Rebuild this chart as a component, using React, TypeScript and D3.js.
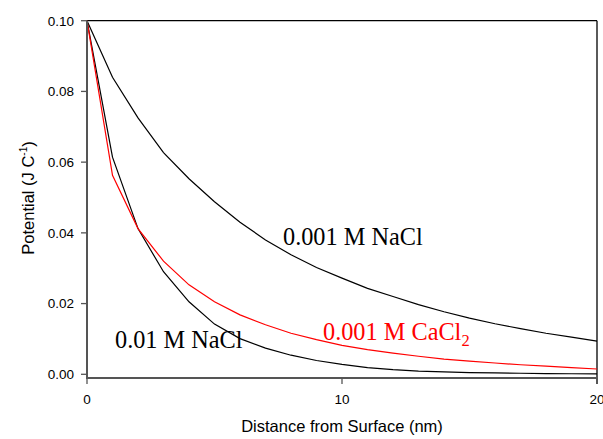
import React from "react";
import { scaleLinear, line } from "d3";

// distance from surface (nm)
const distance = [0, 1, 2, 3, 4, 5, 6, 7, 8, 9, 10, 11, 12, 13, 14, 15, 16, 17, 18, 19, 20];

// potential (J/C)
const nacl001 = [0.1, 0.084, 0.0725, 0.0627, 0.0553, 0.0488, 0.043, 0.038, 0.0338, 0.0302, 0.0272,
  0.0243, 0.022, 0.0197, 0.0177, 0.0159, 0.0143, 0.0129, 0.0116, 0.0105, 0.0094];
const nacl01 = [0.1, 0.0614, 0.0412, 0.029, 0.0205, 0.0142, 0.0101, 0.0074, 0.0054, 0.0039, 0.0028,
  0.0019, 0.0013, 0.0009, 0.0007, 0.0005, 0.0004, 0.0003, 0.0002, 0.00015, 0.0001];
const cacl2001 = [0.1, 0.0563, 0.0412, 0.032, 0.0253, 0.0205, 0.0168, 0.014, 0.0116, 0.0098, 0.0082,
  0.007, 0.006, 0.0051, 0.0043, 0.0037, 0.0032, 0.0027, 0.0023, 0.0019, 0.0015];

const yTicks = [0, 0.02, 0.04, 0.06, 0.08, 0.1];
const xTicks = [0, 10, 20];

const App = () => {
  const width = 603;
  const height = 439;
  const left = 87;
  const right = 597;
  const top = 20.7;
  const zeroY = 374.3;
  const axisY = 378;

  const xScale = scaleLinear().domain([0, 20]).range([left, right]);
  const yScale = scaleLinear().domain([0, 0.1]).range([zeroY, top]);

  const path = (vals: number[]) =>
    line<number>()
      .x((_, i) => xScale(distance[i]))
      .y((d) => yScale(d))(vals) || "";

  const sans = "Arial, 'Liberation Sans', sans-serif";
  const serif = "'Times New Roman', 'Liberation Serif', serif";

  return (
    <svg width={width} height={height} style={{ position: "absolute", left: 0, top: 0 }}>
      <rect width={width} height={height} fill="white" />

      {/* frame top and right */}
      <line x1={left} x2={right} y1={top} y2={top} stroke="black" strokeWidth={1.3} />
      <line x1={right} x2={right} y1={top} y2={axisY + 6} stroke="black" strokeWidth={1.3} />

      {/* curves */}
      <path d={path(nacl001)} fill="none" stroke="black" strokeWidth={1.2} />
      <path d={path(nacl01)} fill="none" stroke="black" strokeWidth={1.2} />
      <path d={path(cacl2001)} fill="none" stroke="#ff0000" strokeWidth={1.2} />

      {/* y axis */}
      <line x1={left} x2={left} y1={top} y2={axisY + 1} stroke="#555" strokeWidth={2} />
      {yTicks.map((t) => (
        <g key={t}>
          <line x1={left - 6} x2={left} y1={yScale(t)} y2={yScale(t)} stroke="#555" strokeWidth={1.3} />
          <text x={74} y={yScale(t)} dy="0.36em" textAnchor="end" fontFamily={sans} fontSize={13.5}>
            {t.toFixed(2)}
          </text>
        </g>
      ))}

      {/* x axis */}
      <line x1={left - 1} x2={right} y1={axisY} y2={axisY} stroke="#555" strokeWidth={2} />
      {xTicks.map((t) => (
        <g key={t}>
          <line x1={xScale(t)} x2={xScale(t)} y1={axisY} y2={axisY + 6} stroke="#555" strokeWidth={1.3} />
          <text x={xScale(t)} y={403.5} textAnchor="middle" fontFamily={sans} fontSize={13.5}>
            {t}
          </text>
        </g>
      ))}

      {/* axis titles */}
      <text x={(left + right) / 2} y={432} textAnchor="middle" fontFamily={sans} fontSize={16.5}>
        Distance from Surface (nm)
      </text>
      <text
        transform={`translate(34,198) rotate(-90)`}
        textAnchor="middle"
        fontFamily={sans}
        fontSize={16.5}
      >
        Potential (J C<tspan fontSize={10} dy={-7}>-1</tspan>
        <tspan dy={7}>)</tspan>
      </text>

      {/* curve labels */}
      <text x={283} y={245} fontFamily={serif} fontSize={24.3} fill="black">
        0.001 M NaCl
      </text>
      <text x={115} y={348} fontFamily={serif} fontSize={24.3} fill="black">
        0.01 M NaCl
      </text>
      <text x={323} y={340} fontFamily={serif} fontSize={24.3} fill="#ff0000">
        0.001 M CaCl<tspan fontSize={16.5} dy={6}>2</tspan>
      </text>
    </svg>
  );
};

export default App;
